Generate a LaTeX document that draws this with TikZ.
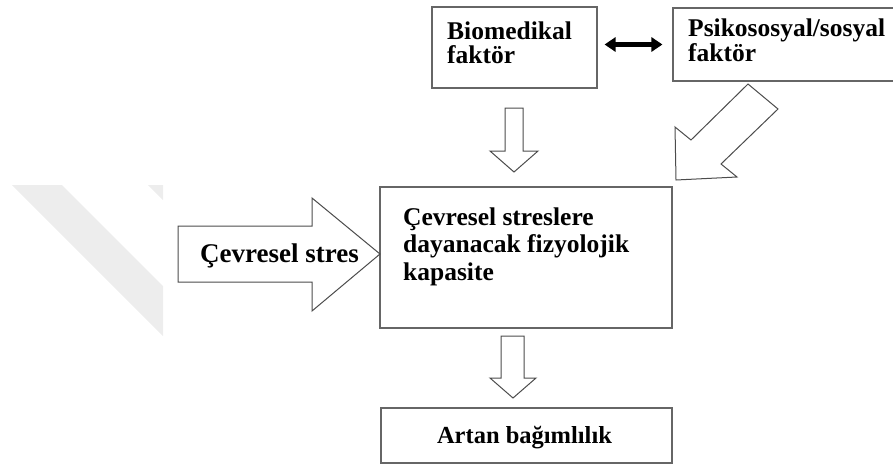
\documentclass[tikz,border=0pt]{standalone}
\usepackage{fontspec}
\setmainfont{Liberation Serif}
\usetikzlibrary{arrows.meta}
\begin{document}
\begin{tikzpicture}[x=1pt,y=-1pt,
  box/.style={draw=black!60, line width=1.1pt, fill=white, inner sep=0pt},
  txt/.style={font=\bfseries\fontsize{25.5}{24.5}\selectfont, inner sep=0pt, anchor=base west, align=left},
  blk/.style={draw=black!70, line width=1pt, fill=white, line join=miter},
  dbl/.style={draw=black, line width=5.5pt, {Triangle[length=11pt,width=14pt]}-{Triangle[length=11pt,width=14pt]}},
  wm/.style={fill=black!7}
]
\useasboundingbox (0,0) rectangle (893,466);
% faint watermark
\fill[wm] (12,185) -- (62,185) -- (163,286) -- (163,336) -- cycle;
\fill[wm] (148,185) -- (163,185) -- (163,200) -- cycle;
% boxes
\node[box, minimum width=165pt, minimum height=81pt] (bio) at (514.5,47.5) {};
\node[box, minimum width=240pt, minimum height=73pt] (psy) at (793,44.5) {};
\node[box, minimum width=292pt, minimum height=141pt] (main) at (526,257.5) {};
\node[box, minimum width=291pt, minimum height=55pt] (dep) at (526.5,435.5) {};
% texts (base = last line)
\node[txt] (biot) at (447,63.5) {Biomedikal\\faktör};
\node[txt] (psyt) at (688,61) {Psikososyal/sosyal\\faktör};
\node[txt, font=\bfseries\fontsize{25.5}{27.5}\selectfont] (maint) at (403,280) {Çevresel streslere\\dayanacak fizyolojik\\kapasite};
\node[txt, font=\bfseries\fontsize{24.5}{26}\selectfont, anchor=base] (dept) at (524.5,443) {Artan bağımlılık};
% double arrow
\draw[dbl] ([xshift=7pt]bio.east |- psy.west) -- ([xshift=-10pt]psy.west);
% block arrows
\draw[blk] (505,108) -- (523,108) -- (523,151) -- (538,151) -- (514,172) -- (490,151) -- (505,151) -- cycle;
\draw[blk] (748,84) -- (691,140) -- (675,127) -- (676,180) -- (737,177) -- (721,164) -- (778,109) -- cycle;
\draw[blk] (501,336) -- (524,336) -- (524,378) -- (536,378) -- (513,398) -- (490,378) -- (501,378) -- cycle;
\draw[blk] (178,226) -- (312,226) -- (312,198) -- (380,254) -- (312,311) -- (312,282) -- (178,282) -- cycle;
\node[txt, font=\bfseries\fontsize{27}{28}\selectfont] (stres) at (200,262) {Çevresel stres};
\end{tikzpicture}
\end{document}
